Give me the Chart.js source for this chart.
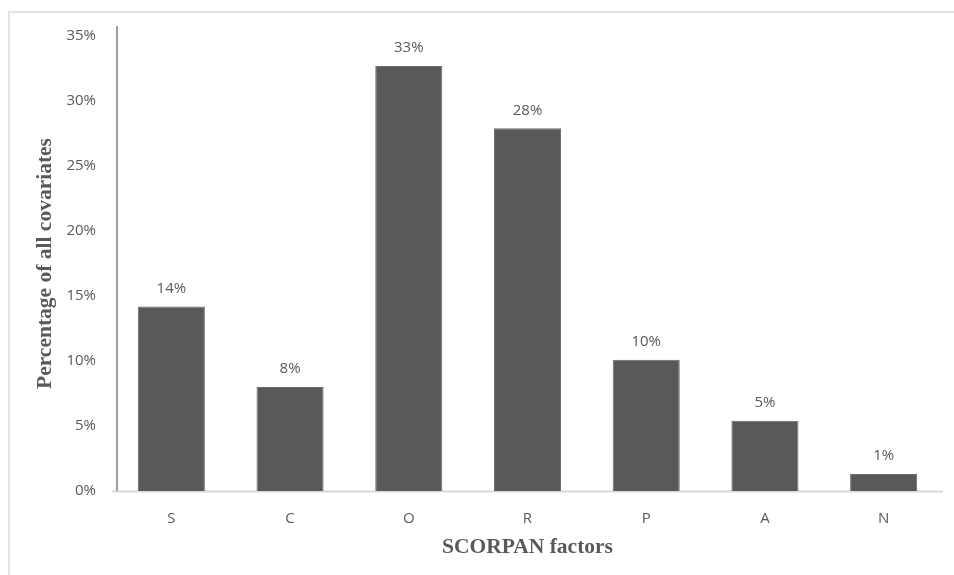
<!DOCTYPE html>
<html>
<head>
<meta charset="utf-8">
<style>
  html, body { margin: 0; padding: 0; background: #ffffff; }
  #wrap { position: relative; width: 954px; height: 575px; }
</style>
<script src="https://cdn.jsdelivr.net/npm/chart.js@4.4.1/dist/chart.umd.min.js"></script>
</head>
<body>
<div id="wrap"><canvas id="chart" width="954" height="575"></canvas></div>
<script>
// Share of covariates by SCORPAN factor (percent)
const categories = ['S', 'C', 'O', 'R', 'P', 'A', 'N'];
const shares = [14.2, 8.0, 32.7, 27.9, 10.1, 5.4, 1.3];
const yTicks = [0, 5, 10, 15, 20, 25, 30, 35];
const xTitle = 'SCORPAN factors';
const yTitle = 'Percentage of all covariates';

const textGray = '#595959';
const tickFont = { family: "'Open Sans', 'Noto Sans', sans-serif", size: 15 };
const titleFont = { family: "'Liberation Serif', 'Times New Roman', serif", size: 21.5, weight: 'bold' };

// Light outer frame around the figure
const framePlugin = {
  id: 'frame',
  beforeDraw(chart) {
    const ctx = chart.ctx;
    ctx.save();
    ctx.fillStyle = '#e4e4e4';
    ctx.fillRect(8, 11, chart.width - 8, 2);
    ctx.fillRect(8, 11, 2, chart.height - 11);
    ctx.restore();
  }
};

// Axis lines: dark vertical axis that overshoots the top, light baseline
const axisLinesPlugin = {
  id: 'axisLines',
  beforeDatasetsDraw(chart) {
    const { ctx, chartArea } = chart;
    const base = chart.scales.y.getPixelForValue(0);
    ctx.save();
    ctx.strokeStyle = '#d9d9d9';
    ctx.lineWidth = 2;
    ctx.beginPath();
    ctx.moveTo(chartArea.left, base + 0.5);
    ctx.lineTo(chartArea.right, base + 0.5);
    ctx.stroke();
    ctx.strokeStyle = '#7f7f7f';
    ctx.lineWidth = 1.5;
    ctx.beginPath();
    ctx.moveTo(chartArea.left + 5, chartArea.top - 10);
    ctx.lineTo(chartArea.left + 5, base);
    ctx.stroke();
    ctx.restore();
  }
};

// Rounded percentage above each bar
const valueLabelsPlugin = {
  id: 'valueLabels',
  afterDatasetsDraw(chart) {
    const ctx = chart.ctx;
    const meta = chart.getDatasetMeta(0);
    ctx.save();
    ctx.fillStyle = textGray;
    ctx.font = `${tickFont.size}px ${tickFont.family}`;
    ctx.textAlign = 'center';
    ctx.textBaseline = 'middle';
    meta.data.forEach((bar, i) => {
      ctx.fillText(Math.round(shares[i]) + '%', bar.x, bar.y - 18);
    });
    ctx.restore();
  }
};

new Chart(document.getElementById('chart'), {
  type: 'bar',
  data: {
    labels: categories,
    datasets: [{
      data: shares,
      backgroundColor: '#595959',
      borderColor: '#6b6b6b',
      borderWidth: 1,
      categoryPercentage: 1.0,
      barPercentage: 0.565
    }]
  },
  options: {
    responsive: false,
    animation: false,
    layout: { padding: { left: 0, top: 36, right: 11, bottom: 0 } },
    plugins: {
      legend: { display: false },
      tooltip: { enabled: false }
    },
    scales: {
      x: {
        grid: { display: false, drawTicks: false },
        border: { display: false },
        ticks: { color: textGray, font: tickFont, padding: 19 },
        title: {
          display: true,
          text: xTitle,
          color: textGray,
          font: titleFont,
          padding: { top: 0, bottom: 15 }
        },
        afterFit(scale) { scale.height = 84; }
      },
      y: {
        min: 0,
        max: 35,
        grid: { display: false, drawTicks: false },
        border: { display: false },
        ticks: {
          color: textGray,
          font: tickFont,
          padding: 16,
          callback: (v) => v + '%'
        },
        afterBuildTicks(scale) { scale.ticks = yTicks.map(v => ({ value: v })); },
        title: {
          display: true,
          text: yTitle,
          color: textGray,
          font: titleFont,
          padding: { top: 33, bottom: 0 }
        },
        afterFit(scale) { scale.width = 112; }
      }
    }
  },
  plugins: [framePlugin, axisLinesPlugin, valueLabelsPlugin]
});
</script>
</body>
</html>
